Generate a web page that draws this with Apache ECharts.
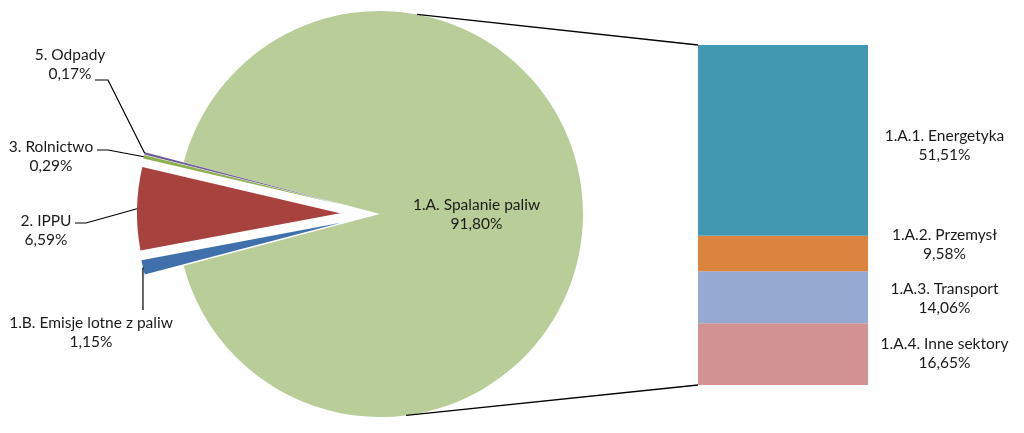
<!DOCTYPE html>
<html lang="pl">
<head>
    <meta charset="UTF-8">
    <title>Emisje CO2 - struktura</title>
    <script src="https://cdn.jsdelivr.net/npm/echarts@6/dist/echarts.min.js"></script>
    <style>
        html, body { margin: 0; padding: 0; background: #fff; }
        #chart { width: 1024px; height: 433px; }
    </style>
</head>
<body>
    <div id="chart"></div>
    <script>
        // pie: main slice + small (exploded) slices
        const pieNames = ['1.A. Spalanie paliw', '1.B. Emisje lotne z paliw', '2. IPPU', '3. Rolnictwo', '5. Odpady'];
        const pieValues = [91.80, 1.15, 6.59, 0.29, 0.17];
        const pieColors = ['#B8CD97', '#3F70AC', '#A8423F', '#8DB04F', '#6E5A98'];

        // bar: breakdown of 1.A. (top to bottom)
        const barNames = ['1.A.1. Energetyka', '1.A.2. Przemysł', '1.A.3. Transport', '1.A.4. Inne sektory'];
        const barValues = [51.51, 9.58, 14.06, 16.65];
        const barColors = ['#4198B0', '#DC843D', '#95A9D1', '#D39292'];
        const barLabelShift = [5, -9, 1, -1];

        // where the small-slice labels sit, and the knee of their leader lines
        const labelPos = {
            '5. Odpady': { text: [70, 64], knee: [[108, 80], [95, 80]] },
            '3. Rolnictwo': { text: [51, 156], knee: [[108, 150], [97, 150]] },
            '2. IPPU': { text: [46, 230], knee: [[86, 223], [75, 223]] },
            '1.B. Emisje lotne z paliw': { text: [91, 332], knee: [[143, 310]] }
        };

        const fmt = v => v.toFixed(2).replace('.', ',') + '%';
        const font = 'Lato, "Open Sans", sans-serif';
        const fs = 15.5;

        const cx = 380, cy = 214, R = 203, explode = 40;
        const smallSum = pieValues.slice(1).reduce((a, b) => a + b, 0);
        const startAngle = 180 - smallSum / 100 * 360 / 2;

        const chartDom = document.getElementById('chart');
        const myChart = echarts.init(chartDom);

        const barLeft = 698, barWidth = 170, barTop = 45, barBottom = 48;

        const pieData = pieNames.map((n, i) => {
            const item = {
                name: n,
                value: pieValues[i],
                itemStyle: { color: pieColors[i] },
                selected: i > 0
            };
            if (i === 0) {
                item.label = { show: true, position: 'inside', offset: [-8, 0] };
            }
            return item;
        });

        // stack from bottom up
        const barSeries = barNames.map((n, i) => ({
            name: n,
            type: 'bar',
            stack: 'a',
            barWidth: '100%',
            data: [barValues[i]],
            itemStyle: { color: barColors[i] },
            label: {
                show: true,
                position: ['145%', '50%'],
                offset: [0, barLabelShift[i]],
                align: 'center',
                verticalAlign: 'middle',
                formatter: n + '\n' + fmt(barValues[i]),
                color: '#1a1a1a',
                fontFamily: font,
                fontSize: fs,
                lineHeight: 19
            },
            emphasis: { disabled: true }
        })).reverse();

        const total = barValues.reduce((a, b) => a + b, 0);

        // leader lines + labels for the exploded slices, from slice geometry
        const graphics = [];
        let acc = 0;
        pieValues.forEach((v, i) => {
            const a0 = startAngle - acc / 100 * 360;
            acc += v;
            if (i === 0) return;
            const mid = (a0 - v / 100 * 360 / 2) * Math.PI / 180;
            const r = R + explode;
            const sx = cx + r * Math.cos(mid), sy = cy - r * Math.sin(mid);
            const lp = labelPos[pieNames[i]];
            graphics.push({
                type: 'polyline',
                shape: { points: [[sx, sy]].concat(lp.knee) },
                style: { stroke: '#000', lineWidth: 1.2, fill: null },
                z: 10
            });
            graphics.push({
                type: 'text',
                x: lp.text[0],
                y: lp.text[1],
                style: {
                    text: pieNames[i] + '\n' + fmt(v),
                    font: fs + 'px ' + font,
                    lineHeight: 19,
                    fill: '#1a1a1a',
                    align: 'center',
                    verticalAlign: 'middle'
                },
                z: 10
            });
        });

        // connector lines from pie edge to bar corners
        const topPt = [cx + R * Math.cos(79.5 * Math.PI / 180), cy - R * Math.sin(79.5 * Math.PI / 180)];
        const botPt = [cx + R * Math.cos(-82.6 * Math.PI / 180), cy - R * Math.sin(-82.6 * Math.PI / 180)];
        graphics.push({ type: 'line', shape: { x1: topPt[0], y1: topPt[1], x2: barLeft, y2: barTop }, style: { stroke: '#000', lineWidth: 1.3 }, z: 10 });
        graphics.push({ type: 'line', shape: { x1: botPt[0], y1: botPt[1], x2: barLeft, y2: 433 - barBottom }, style: { stroke: '#000', lineWidth: 1.3 }, z: 10 });

        const option = {
            animation: false,
            backgroundColor: '#fff',
            textStyle: { fontFamily: font },
            grid: { left: barLeft, width: barWidth, top: barTop, bottom: barBottom, containLabel: false },
            xAxis: { type: 'category', data: ['1.A.'], show: false },
            yAxis: { type: 'value', min: 0, max: total, show: false },
            graphic: graphics,
            series: [{
                type: 'pie',
                center: [cx, cy],
                radius: R,
                startAngle: startAngle,
                clockwise: true,
                sort: false,
                avoidLabelOverlap: false,
                selectedMode: 'multiple',
                selectedOffset: explode,
                minAngle: 0,
                data: pieData,
                itemStyle: { borderWidth: 0 },
                select: { itemStyle: { borderWidth: 0 } },
                emphasis: { disabled: true },
                label: {
                    show: false,
                    formatter: p => p.name + '\n' + fmt(p.value),
                    color: '#1a1a1a',
                    fontFamily: font,
                    fontSize: fs,
                    lineHeight: 19
                },
                labelLine: { show: false }
            }].concat(barSeries)
        };

        option && myChart.setOption(option);
    </script>
</body>
</html>
